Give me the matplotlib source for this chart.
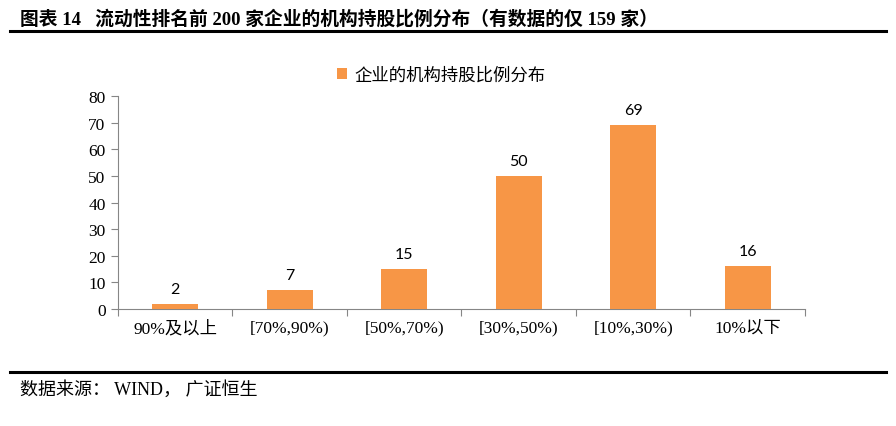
import matplotlib.pyplot as plt
from matplotlib.lines import Line2D

# 数据
categories = ['90%及以上', '[70%,90%)', '[50%,70%)', '[30%,50%)', '[10%,30%)', '10%以下']
counts = [2, 7, 15, 50, 69, 16]
series_name = '企业的机构持股比例分布'

serif_cjk = ['Liberation Serif', 'Noto Sans CJK SC']
bar_color = '#F79646'

fig = plt.figure(figsize=(8.96, 4.27), dpi=100)
ax = fig.add_axes([0.1317, 0.274, 0.7667, 0.4988])

x = range(len(categories))
ax.bar(x, counts, width=0.4, color=bar_color, label=series_name, zorder=3)

# 数值标签
for i, v in enumerate(counts):
    ax.text(i, v + 3, str(v), ha='center', va='bottom', fontsize=11.5, family='Lato')

ax.set_xlim(-0.5, len(categories) - 0.5)
ax.set_ylim(0, 80)
ax.set_yticks(range(0, 81, 10))
ax.set_yticklabels([str(t) for t in range(0, 81, 10)], family=serif_cjk, fontsize=12.5)

# x 轴刻度在类别边界
ax.set_xticks([i - 0.5 for i in range(len(categories) + 1)])
ax.set_xticklabels([])
ax.tick_params(axis='x', length=5, color='#868686', width=0.8)
ax.tick_params(axis='y', length=5, color='#868686', width=0.8, pad=4)
for i, c in enumerate(categories):
    ax.text(i, -4.0, c, ha='center', va='top', fontsize=12.5, family=serif_cjk,
            transform=ax.transData)

for s in ['top', 'right']:
    ax.spines[s].set_visible(False)
for s in ['left', 'bottom']:
    ax.spines[s].set_color('#868686')
    ax.spines[s].set_linewidth(0.8)

ax.legend(loc='lower center', bbox_to_anchor=(0.47, 0.985), frameon=False,
          prop={'family': serif_cjk, 'size': 12.5}, handlelength=0.6,
          handleheight=0.6, handletextpad=0.4)

# 标题与来源
fig.text(0.022, 0.955, '图表 14   流动性排名前 200 家企业的机构持股比例分布（有数据的仅 159 家）',
         fontsize=13.5, fontweight='bold', family=serif_cjk, va='center')
fig.add_artist(Line2D([0.011, 0.989], [0.925, 0.925], color='black', lw=2.2))
fig.add_artist(Line2D([0.011, 0.989], [0.126, 0.126], color='black', lw=2.2))
fig.text(0.022, 0.087, '数据来源： WIND， 广证恒生', fontsize=13, family=serif_cjk, va='center')

fig.savefig('out.png', dpi=100)
